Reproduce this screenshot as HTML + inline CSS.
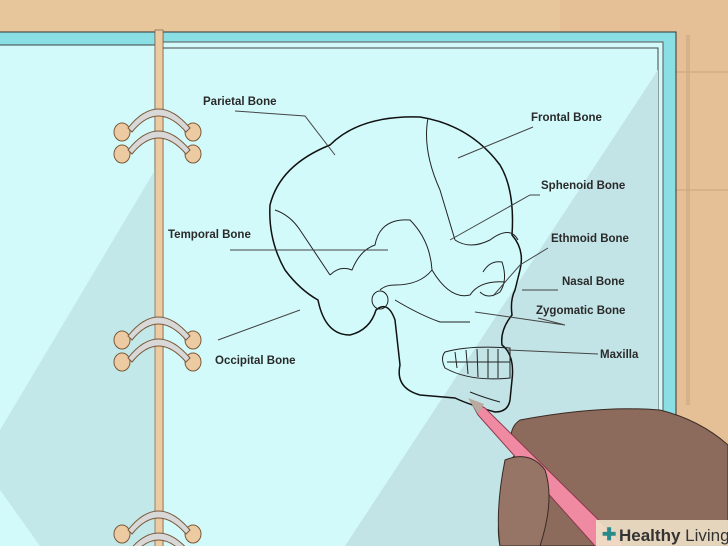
<!DOCTYPE html>
<html><head><style>body{margin:0}svg{display:block}text{font-family:"Liberation Sans",sans-serif;font-size:11.5px;font-weight:bold;fill:#2a2a2a}</style></head><body>
<svg width="728" height="546" viewBox="0 0 728 546" xmlns="http://www.w3.org/2000/svg">
<rect width="728" height="546" fill="#e8c69c"/>
<rect x="560" y="0" width="168" height="546" fill="#e2bd92" opacity=".6"/>
<line x1="676" y1="72" x2="728" y2="72" stroke="#c9a27a"/>
<line x1="676" y1="190" x2="728" y2="190" stroke="#c9a27a"/>
<rect x="-2" y="32" width="157" height="520" fill="#8adfe4" stroke="#333" stroke-width="1"/>
<rect x="-2" y="45" width="157" height="510" fill="#d3fafb" stroke="#444" stroke-width="1"/>
<polygon points="0,490 0,430 155,170 155,546 40,546" fill="#c2e8ea"/>
<rect x="163" y="32" width="513" height="520" fill="#8adfe4" stroke="#333" stroke-width="1"/>
<rect x="686" y="35" width="4" height="370" fill="#c9a882" opacity=".6"/>
<rect x="163" y="42" width="500" height="510" fill="#d3fafb" stroke="#555" stroke-width="1"/>
<rect x="163" y="48" width="495" height="504" fill="#d3fafb" stroke="#444" stroke-width="1"/>
<polygon points="658,70 658,546 345,546" fill="#c2e4e6"/>
<rect x="155" y="30" width="8" height="520" fill="#eccba3" stroke="#8a6a4a" stroke-width=".8"/>
<g id="r" stroke="#7a5a3a" stroke-width="1">
<ellipse cx="122" cy="132" rx="8" ry="9" fill="#eccba3"/><ellipse cx="193" cy="132" rx="8" ry="9" fill="#eccba3"/>
<ellipse cx="122" cy="154" rx="8" ry="9" fill="#eccba3"/><ellipse cx="193" cy="154" rx="8" ry="9" fill="#eccba3"/>
<path d="M128,128 Q158,90 190,128 L186,132 Q158,100 132,132Z" fill="#d8d8d8"/>
<path d="M128,150 Q158,112 190,150 L186,154 Q158,122 132,154Z" fill="#d8d8d8"/>
</g>
<use href="#r" y="208"/><use href="#r" y="402"/>
<g fill="none" stroke="#111" stroke-width="1.5">
<path d="M330,145 Q360,115 420,117 Q470,125 500,165 Q515,190 512,235 Q525,250 520,270 L515,290 Q510,300 512,315 Q500,330 502,345 Q515,355 512,380 L510,400 Q508,412 495,412 Q470,405 455,398 L420,395 Q395,388 400,365 L395,320 Q388,300 376,310 Q370,330 350,335 Q325,335 318,300 Q300,290 285,270 Q268,240 270,205 Q280,165 330,145Z"/>
</g>
<g fill="none" stroke="#222" stroke-width="1">
<path d="M428,118 Q422,150 440,190 L455,240"/>
<path d="M275,210 Q290,215 300,230 Q320,260 330,275"/>
<path d="M330,275 Q340,265 352,270 Q360,250 375,245 Q380,218 410,220 Q430,240 432,270 Q420,285 395,285 Q385,285 380,290"/>
<path d="M432,270 Q450,300 470,295 Q480,280 505,282"/>
<path d="M455,240 Q470,250 490,240 Q510,225 518,240"/>
<path d="M483,272 Q490,260 502,262 Q508,280 500,292 Q488,300 480,292"/>
<path d="M372,300 a8,9 0 1 0 16,0 a8,9 0 1 0 -16,0"/>
<path d="M395,300 Q420,315 440,322 L470,322"/>
<path d="M445,352 Q470,345 510,348 L510,378 Q470,382 445,368 Q440,358 445,352Z"/>
<path d="M455,352 L457,368 M466,350 L468,374 M477,349 L478,377 M488,349 L488,378 M498,349 L498,378 M447,362 L510,362"/>
<path d="M470,392 Q485,398 500,402"/>
</g>
<g stroke="#444" stroke-width="1" fill="none">
<path d="M235,111 L305,116 L335,155"/>
<path d="M533,127 L458,158"/>
<path d="M540,195 L530,195 L450,240"/>
<path d="M230,250 L388,250"/>
<path d="M548,248 L520,265 L493,296"/>
<path d="M558,290 L522,290"/>
<path d="M538,318 L565,325 L475,312"/>
<path d="M598,354 L508,350"/>
<path d="M218,340 L300,310"/>
</g>
<text x="203" y="105">Parietal Bone</text>
<text x="531" y="121">Frontal Bone</text>
<text x="541" y="189">Sphenoid Bone</text>
<text x="168" y="238">Temporal Bone</text>
<text x="551" y="242">Ethmoid Bone</text>
<text x="562" y="285">Nasal Bone</text>
<text x="536" y="314">Zygomatic Bone</text>
<text x="600" y="358">Maxilla</text>
<text x="215" y="364">Occipital Bone</text>
<path d="M520,420 Q600,405 660,410 Q700,420 728,445 L728,546 L500,546 Q495,520 505,500 Q500,470 515,455 Q505,430 520,420Z" fill="#8c6a5c" stroke="#3a2a24" stroke-width="1"/>
<path d="M470,400 L485,408 L625,546 L595,546 L478,415Z" fill="#f08aa2" stroke="#8a3a4a" stroke-width="1"/>
<path d="M468,398 L484,404 L478,414Z" fill="#b9a99f"/>
<path d="M505,460 Q530,450 545,470 Q555,500 540,546 L500,546 Q495,510 505,460Z" fill="#967466" stroke="#3a2a24" stroke-width="1"/>
<rect x="596" y="520" width="132" height="26" fill="#efe1c8" opacity=".9"/>
<text x="602" y="540" style="font-size:17px;fill:#2a8a8a;font-weight:bold">✚</text>
<text x="619" y="541" style="font-size:17px;fill:#333;font-weight:normal"><tspan font-weight="bold">Healthy</tspan> Living</text>
</svg>
</body></html>
